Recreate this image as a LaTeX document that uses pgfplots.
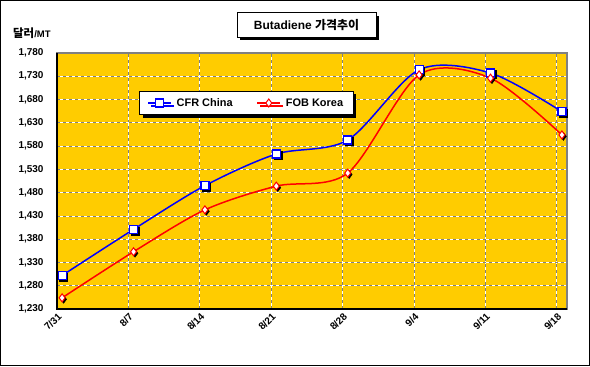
\documentclass[border=0pt]{standalone}
\usepackage{fontspec}
\setmainfont{Liberation Sans}
\newfontfamily\kr{Noto Sans CJK KR}
\usepackage{pgfplots}
\usepackage{pgfplotstable}
\pgfplotsset{compat=1.18}
\usetikzlibrary{shadows}
\definecolor{gold}{RGB}{255,204,0}
\pgfplotstableread{
x y
0.5 1302
7.5 1401
14.5 1495
21.5 1563
28.5 1593
35.5 1744
42.5 1737
49.5 1654
}\china
\pgfplotstableread{
x y
0.5 1254
7.5 1353
14.5 1443
21.5 1494
28.5 1522
35.5 1733
42.5 1726
49.5 1604
}\korea
\begin{document}
\begin{tikzpicture}[x=1bp,y=1bp]
\useasboundingbox (0,0) rectangle (590,366);
\draw[black, line width=1bp] (0.5,0.5) rectangle (589.5,365.5);
\begin{axis}[at={(57bp,57bp)}, anchor=south west, scale only axis,
  width=510bp, height=256bp,
  xmin=0, xmax=50, ymin=1230, ymax=1780,
  xtick={0,7,...,49}, xticklabels={7/31,8/7,8/14,8/21,8/28,9/4,9/11,9/18},
  ytick={1230,1280,...,1780},
  /pgf/number format/assume math mode=true,
  /pgf/number format/1000 sep={,},
  tick label style={font=\bfseries\fontsize{10}{12}\selectfont},
  xticklabel style={rotate=45, anchor=east, inner sep=1bp, yshift=-6bp, xshift=-1bp},
  yticklabel style={xshift=-10bp},
  major tick length=0pt,
  xmajorgrids, ymajorgrids,
  major grid style={draw=white, line width=0.8bp, postaction={draw=gray, dash pattern=on 3bp off 3bp}},
  axis background/.style={fill=gold},
  axis line style={draw=gray, line width=1.5bp},
  clip=false,
  legend columns=2,
  legend style={at={(0.161,0.852)}, anchor=north west, draw=black, line width=0.8bp, fill=white,
    font=\bfseries\fontsize{11}{13}\selectfont, inner xsep=8bp, inner ysep=5bp,
    /tikz/every odd column/.append style={column sep=3bp},
    /tikz/every even column/.append style={column sep=22bp},
    nodes={inner sep=2bp},
    general shadow={fill=black, shadow xshift=3bp, shadow yshift=-3bp}},
  legend image code/.code={\draw[mark repeat=2,mark phase=2] plot coordinates {(0cm,0cm) (0.4cm,0cm) (0.8cm,0cm)};},
]
\addplot[only marks, mark=square*, mark size=4bp, black, forget plot, mark options={xshift=1.5bp, yshift=-1.5bp}] table[x=x,y=y]{\china};
\addplot[only marks, mark=diamond*, mark size=4bp, black, forget plot, mark options={xshift=1.5bp, yshift=-1.5bp}] table[x=x,y=y]{\korea};
\addplot[blue, line width=1.5bp, smooth, mark=square*, mark size=4bp, mark options={fill=white, draw=blue, line width=1.2bp, solid}] table[x=x,y=y]{\china};
\addlegendentry{CFR China}
\addplot[red, line width=1.5bp, smooth, mark=diamond*, mark size=4bp, mark options={fill=white, draw=red, line width=1bp, solid}] table[x=x,y=y]{\korea};
\addlegendentry{FOB Korea}
\draw[black, line width=1.5bp] (rel axis cs:0,1) -- (rel axis cs:0,0) -- (rel axis cs:1,0);
\end{axis}
\node[draw=black, line width=1bp, fill=white, general shadow={fill=black, shadow xshift=3bp, shadow yshift=-3bp}, minimum width=139bp, minimum height=24bp, inner sep=2bp, font=\bfseries\fontsize{12}{14}\selectfont] at (306.5,341) {Butadiene {\kr 가격추이}};
\node[anchor=west, inner sep=0pt, font=\bfseries\fontsize{11.5}{13}\selectfont] at (13,333) {{\kr 달러}{\fontsize{9.5}{11}\selectfont/MT}};
\end{tikzpicture}
\end{document}
